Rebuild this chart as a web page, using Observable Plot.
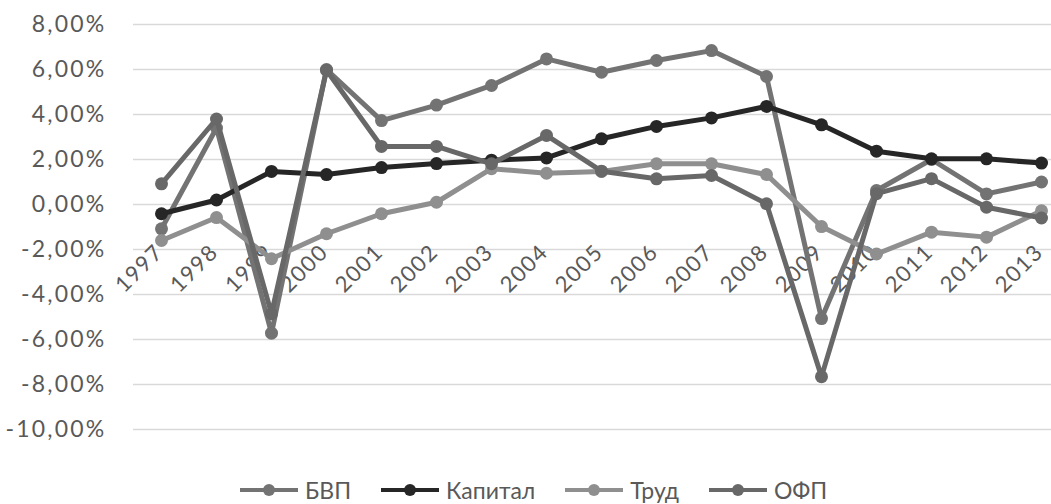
<!DOCTYPE html>
<html>
<head>
<meta charset="utf-8">
<script src="https://cdn.jsdelivr.net/npm/d3@7"></script>
<script src="https://cdn.jsdelivr.net/npm/@observablehq/plot@0.6"></script>
<style>
  html, body { margin: 0; padding: 0; background: #fff; }
  #chart { width: 1051px; height: 504px; position: relative; font-family: Lato, sans-serif; overflow: hidden; }
  .legend { position: absolute; left: 240px; top: 477px; display: flex; align-items: center; font-size: 23px; line-height: 26px; color: #595959; }
  .legend .item { display: flex; align-items: center; margin-right: 30px; }
  .legend svg { margin-right: 7px; }
</style>
</head>
<body>
<div id="chart"></div>
<script>
const years = ["1997","1998","1999","2000","2001","2002","2003","2004","2005","2006","2007","2008","2009","2010","2011","2012","2013"];
const seriesNames = ["БВП", "Капитал", "Труд", "ОФП"];
const gdp = [-1.08, 3.40, -5.72, 6.00, 3.73, 4.42, 5.29, 6.47, 5.88, 6.40, 6.84, 5.69, -5.07, 0.62, 2.00, 0.47, 1.00];
const capital = [-0.41, 0.20, 1.47, 1.33, 1.64, 1.82, 1.97, 2.07, 2.92, 3.47, 3.85, 4.36, 3.54, 2.37, 2.03, 2.03, 1.84];
const labor = [-1.60, -0.58, -2.41, -1.30, -0.41, 0.10, 1.59, 1.39, 1.47, 1.81, 1.81, 1.33, -0.98, -2.20, -1.23, -1.45, -0.28];
const tfp = [0.92, 3.80, -4.85, 5.97, 2.58, 2.58, 1.81, 3.07, 1.48, 1.14, 1.29, 0.03, -7.65, 0.48, 1.15, -0.12, -0.60];
const yTicks = [-10, -8, -6, -4, -2, 0, 2, 4, 6, 8];
const colors = ["#737373", "#262626", "#8f8f8f", "#686868"];

const valuesBySeries = [gdp, capital, labor, tfp];
const rows = [];
seriesNames.forEach((s, i) => years.forEach((y, j) => rows.push({series: s, year: y, value: valuesBySeries[i][j]})));

const fmt = d => d.toFixed(2).replace(".", ",") + "%";

const marks = [
  Plot.gridY(yTicks, {stroke: "#d9d9d9", strokeOpacity: 1, strokeWidth: 1.5}),
  Plot.axisY(yTicks, {tickSize: 0, tickPadding: 27, tickFormat: fmt, fontSize: 23, fill: "#595959", label: null}),
  Plot.text(years, {x: d => d, y: () => 0, text: d => d, rotate: -45, textAnchor: "end", lineAnchor: "bottom", dx: 3, dy: 49, fontSize: 22, fill: "#595959"})
];
seriesNames.forEach((s, i) => {
  const data = rows.filter(r => r.series === s);
  marks.push(Plot.line(data, {x: "year", y: "value", stroke: colors[i], strokeWidth: 5, strokeLinejoin: "round"}));
  marks.push(Plot.dot(data, {x: "year", y: "value", fill: colors[i], r: 6.5}));
});

const plot = Plot.plot({
  width: 1051,
  height: 455,
  marginLeft: 133,
  marginRight: 0,
  marginTop: 24,
  marginBottom: 26,
  style: {fontFamily: "Lato, sans-serif", background: "#fff", color: "#595959", overflow: "visible"},
  x: {type: "point", domain: years, range: [160, 1041], padding: 0, axis: null},
  y: {domain: [-10, 8], axis: null, label: null},
  marks
});
// letter spacing tweaks (styles only)
d3.select(plot).selectAll("g[aria-label='y-axis tick label'] text").style("letter-spacing", "2.2px");
d3.select(plot).selectAll("g[aria-label='text'] text").style("letter-spacing", "1.5px");

const chart = document.getElementById("chart");
chart.appendChild(plot);

const legend = document.createElement("div");
legend.className = "legend";
seriesNames.forEach((s, i) => {
  const item = document.createElement("div");
  item.className = "item";
  item.innerHTML = `<svg width="58" height="16"><line x1="0" y1="8" x2="58" y2="8" stroke="${colors[i]}" stroke-width="4"/><circle cx="29" cy="8" r="6" fill="${colors[i]}"/></svg><span>${s}</span>`;
  legend.appendChild(item);
});
chart.appendChild(legend);
</script>
</body>
</html>
